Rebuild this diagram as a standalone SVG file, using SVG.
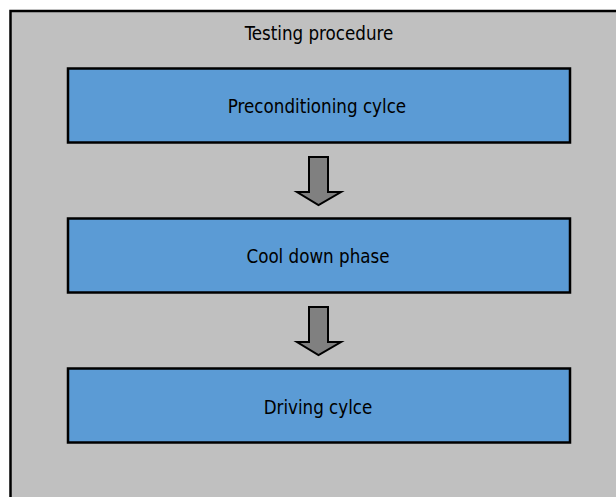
<svg xmlns="http://www.w3.org/2000/svg" width="616" height="497" viewBox="0 0 616 497">
<style>
.box{fill:#5b9bd5;stroke:#000;stroke-width:2.5}
.lbl{font-family:"DejaVu Sans Condensed","DejaVu Sans",sans-serif;font-size:18.6px;fill:#000;text-anchor:middle;dominant-baseline:central}
.arr{fill:#808080;stroke:#000;stroke-width:2;stroke-linejoin:miter}
</style>
<rect x="10.5" y="11" width="620" height="500" fill="#c0c0c0" stroke="#000" stroke-width="2.5"/>
<text class="lbl" x="319" y="33">Testing procedure</text>
<g id="n1"><rect class="box" x="68" y="68.5" width="502" height="74"/><text class="lbl" x="317" y="106">Preconditioning cylce</text></g>
<g id="n2"><rect class="box" x="68" y="218.5" width="502" height="74"/><text class="lbl" x="318" y="256">Cool down phase</text></g>
<g id="n3"><rect class="box" x="68" y="368.5" width="502" height="74"/><text class="lbl" x="318" y="407">Driving cylce</text></g>
<g id="connectors">
<path class="arr" d="M309 157 H328 V192 H341 L318.5 205 L297 192 H309 Z"/>
<path class="arr" d="M309 307 H328 V342 H341 L318.5 355 L297 342 H309 Z"/>
</g>
</svg>
